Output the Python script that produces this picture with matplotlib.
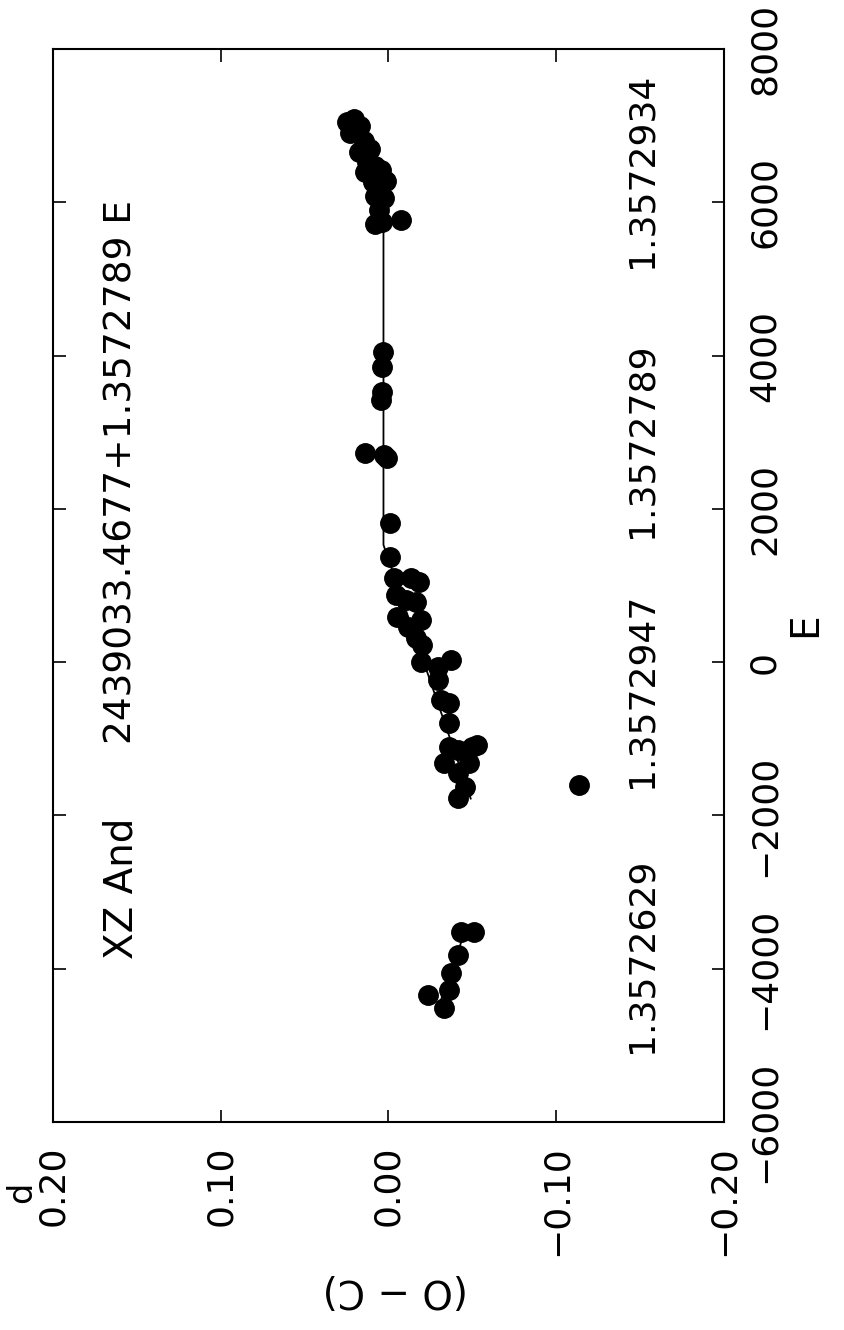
import matplotlib
matplotlib.use('Agg')
import matplotlib.pyplot as plt

# O-C diagram of XZ And, cycle number E vs (O - C) in days
E_pts = [-3523, -3523, -3823, -4058, -4279, -4345, -4514,
         -1605,
         1814, 1370, 1096, 1096, 1044, 874, 809, 783, 587, 548, 457, 313, 222,
         0, 26, -65, -235, -496, -535, -796, -1080, -1109, -1109, -1148,
         -1318, -1318, -1448, -1631, -1774,
         4045, 3849, 3523, 3418, 2727, 2701, 2662,
         7045, 7085, 6993, 6902, 6797, 6654, 6693, 6524, 6471, 6393, 6419,
         6263, 6184, 6276, 6080, 6054, 5897, 5741, 5714, 5767]
OC_pts = [-0.0435, -0.0507, -0.0417, -0.0370, -0.0358, -0.0238, -0.0328,
          -0.1133,
          -0.0006, -0.0006, -0.0030, -0.0137, -0.0179, -0.0042, -0.0107,
          -0.0161, -0.0048, -0.0191, -0.0119, -0.0161, -0.0197,
          -0.0191, -0.0370, -0.0298, -0.0298, -0.0310, -0.0358, -0.0358,
          -0.0530, -0.0358, -0.0495, -0.0417,
          -0.0328, -0.0477, -0.0417, -0.0459, -0.0417,
          0.0030, 0.0036, 0.0036, 0.0042, 0.0143, 0.0024, 0.0006,
          0.0250, 0.0203, 0.0167, 0.0227, 0.0149, 0.0173, 0.0113, 0.0131,
          0.0083, 0.0143, 0.0042, 0.0095, 0.0060, 0.0012, 0.0083, 0.0024,
          0.0054, 0.0036, 0.0083, -0.0072]

# broken-line fit
fitA_E  = [-4450, -3450]
fitA_OC = [-0.0306, -0.0466]
fitB_E  = [-1780, 1530, 5750, 7100]
fitB_OC = [-0.049, 0.003, 0.003, 0.0226]

periods   = ['1.3572629', '1.3572947', '1.3572789', '1.3572934']
period_yp = [955, 690, 440, 170]      # label centres, pixels from top

oc_ticks  = [0.20, 0.10, 0.00, -0.10, -0.20]
oc_labels = ['0.20', '0.10', '0.00', '\u22120.10', '\u22120.20']
e_ticks   = [-6000, -4000, -2000, 0, 2000, 4000, 6000, 8000]
e_labels  = ['\u22126000', '\u22124000', '\u22122000', '0', '2000', '4000', '6000', '8000']

W, H = 845, 1330
fig = plt.figure(figsize=(W/100, H/100), dpi=100)
ax = fig.add_axes([53/W, 1 - 1122/H, (724-53)/W, (1122-49)/H])

ax.plot(fitA_OC, fitA_E, color='black', lw=1.3)
ax.plot(fitB_OC, fitB_E, color='black', lw=1.3)
ax.plot(OC_pts, E_pts, 'o', color='black', ms=14, mec='black')

ax.set_xlim(0.20, -0.20)
ax.set_ylim(-6000, 8000)
ax.set_xticks(oc_ticks)
ax.set_xticklabels(oc_labels, rotation=90)
ax.set_yticks(e_ticks)
ax.set_yticklabels(e_labels, rotation=90, va='center')
ax.tick_params(direction='in', length=9, width=1.2, labelsize=26, pad=17,
               top=True, right=True, left=True, bottom=True,
               labelleft=False, labelright=True)
for s in ax.spines.values():
    s.set_linewidth(1.5)

def ptext(x, y, s, rot=90, size=26, **kw):
    fig.text(x/W, 1 - y/H, s, rotation=rot, fontsize=size,
             ha='center', va='center', **kw)

ptext(122, 888, 'XZ And', size=28)
ptext(122, 472, '2439033.4677+1.3572789 E', size=27)
for lab, yp in zip(periods, period_yp):
    ptext(642, yp, lab)

ptext(805, 625, 'E', size=28)
ptext(395, 1290, '(O \u2212 C)', rot=180, size=28)
ptext(22, 1192, 'd', size=24)

fig.savefig('out.png', dpi=100, facecolor='white')
